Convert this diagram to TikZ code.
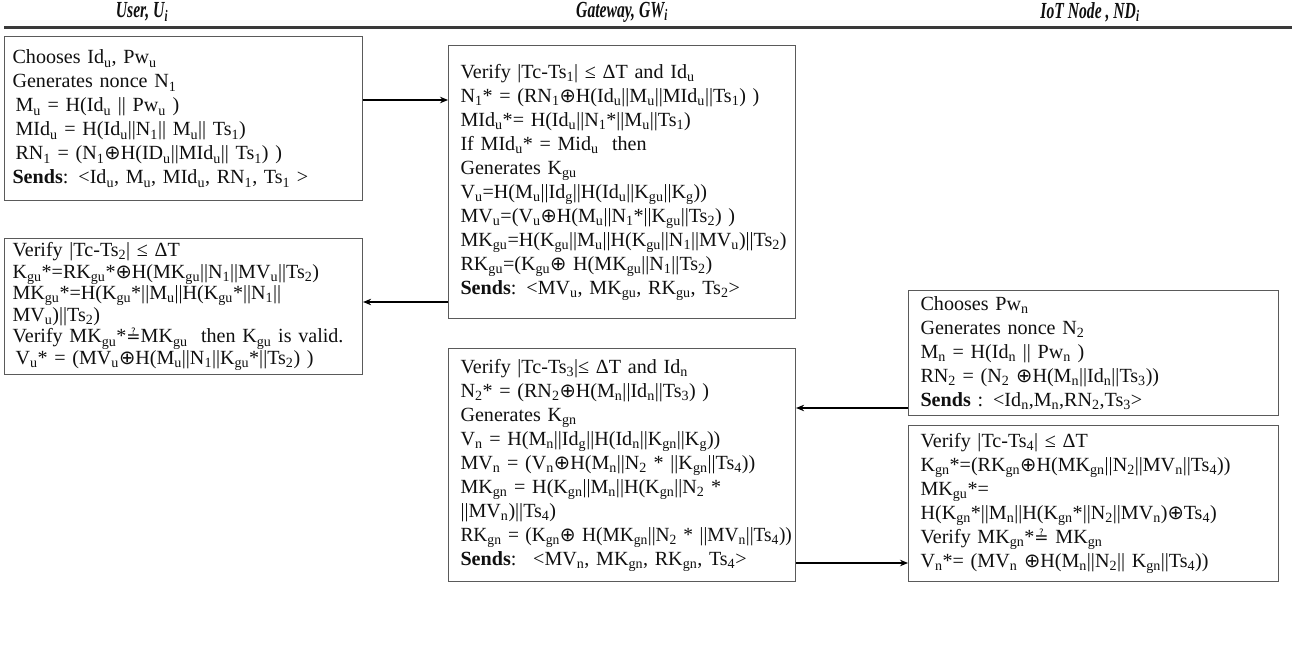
\documentclass[tikz,border=0pt]{standalone}
\usepackage{fontspec}
\usepackage{graphicx}
\setmainfont{Liberation Serif}
\newfontfamily\hdrfont{Liberation Serif}[FakeStretch=0.68]
\newfontfamily\xsymfont{DejaVu Sans}
\usetikzlibrary{arrows.meta}
\definecolor{boxgray}{HTML}{5A5A5A}
\definecolor{rulegray}{HTML}{3A3A3A}
\definecolor{ink}{HTML}{101010}
\newcommand\s[1]{\textsubscript{#1}}
\newcommand\xor{{\xsymfont\fontsize{19.5}{19.5}\selectfont ⊕}}
\newcommand\qeq{{\xsymfont\fontsize{17}{17}\selectfont ≟}}
\begin{document}
\begin{tikzpicture}[x=1pt,y=-1pt,
  box/.style={draw=boxgray, line width=1.1pt, anchor=north west, align=left,
    inner xsep=8pt, inner ysep=0pt, text=ink,
    font=\fontsize{20.1}{24}\selectfont},
  tight/.style={font=\fontsize{20.1}{21.6}\selectfont},
  hdr/.style={font=\hdrfont\bfseries\itshape\fontsize{23}{26}\selectfont, text=ink},
  arr/.style={-{Stealth[length=8pt,width=6.5pt]}, line width=1.4pt, draw=black}]
\useasboundingbox[fill=white] (0,0) rectangle (1296,650);

% column headings and rule
\node[hdr] (hU) at (142,12) {User, U\s{i}};
\node[hdr] (hG) at (622,12) {Gateway, GW\s{i}};
\node[hdr] (hN) at (1090,12) {IoT Node , ND\s{i}};
\coordinate (rl) at (4,28);
\coordinate (rr) at (1292,28);
\draw[line width=3pt, rulegray] (rl) -- (rr);

% user side
\node[box, minimum width=358pt, text width=342pt, minimum height=164pt] (ub1) at (4,36) {%
Chooses Id\s{u}, Pw\s{u}\\
Generates nonce N\s{1}\\
\hspace{3pt}M\s{u} = H(Id\s{u} || Pw\s{u} )\\
\hspace{3pt}MId\s{u} = H(Id\s{u}||N\s{1}|| M\s{u}|| Ts\s{1})\\
\hspace{3pt}RN\s{1} = (N\s{1}\xor H(ID\s{u}||MId\s{u}|| Ts\s{1}) )\\
\textbf{Sends}: <Id\s{u}, M\s{u}, MId\s{u}, RN\s{1}, Ts\s{1} >};

\node[box, tight, minimum width=358pt, text width=342pt, minimum height=136pt] (ub2) at (4,238) {%
Verify |Tc-Ts\s{2}| ≤ ΔT\\
\mbox{K\s{gu}*=RK\s{gu}*\xor H(MK\s{gu}||N\s{1}||MV\s{u}||Ts\s{2})}\\
MK\s{gu}*=H(K\s{gu}*||M\s{u}||H(K\s{gu}*||N\s{1}||\\
MV\s{u})||Ts\s{2})\\
\mbox{Verify MK\s{gu}*\qeq MK\s{gu} \ then K\s{gu} is valid.}\\
\hspace{3pt}\mbox{V\s{u}* = (MV\s{u}\xor H(M\s{u}||N\s{1}||K\s{gu}*||Ts\s{2}) )}};

% gateway side
\node[box, inner xsep=12pt, minimum width=347pt, text width=323pt, minimum height=273pt] (gw1) at (448,45) {%
Verify |Tc-Ts\s{1}| ≤ ΔT and Id\s{u}\\
\mbox{N\s{1}* = (RN\s{1}\xor H(Id\s{u}||M\s{u}||MId\s{u}||Ts\s{1}) )}\\
MId\s{u}*= H(Id\s{u}||N\s{1}*||M\s{u}||Ts\s{1})\\
If MId\s{u}* = Mid\s{u} \ then\\
Generates K\s{gu}\\
V\s{u}=H(M\s{u}||Id\s{g}||H(Id\s{u}||K\s{gu}||K\s{g}))\\
\mbox{MV\s{u}=(V\s{u}\xor H(M\s{u}||N\s{1}*||K\s{gu}||Ts\s{2}) )}\\
\mbox{MK\s{gu}=H(K\s{gu}||M\s{u}||H(K\s{gu}||N\s{1}||MV\s{u})||Ts\s{2})}\\
\mbox{RK\s{gu}=(K\s{gu}\xor\ H(MK\s{gu}||N\s{1}||Ts\s{2})}\\
\textbf{Sends}: <MV\s{u}, MK\s{gu}, RK\s{gu}, Ts\s{2}>};

\node[box, inner xsep=12pt, minimum width=347pt, text width=323pt, minimum height=233pt] (gw2) at (448,348) {%
Verify |Tc-Ts\s{3}|≤ ΔT and Id\s{n}\\
\mbox{N\s{2}* = (RN\s{2}\xor H(M\s{n}||Id\s{n}||Ts\s{3}) )}\\
Generates K\s{gn}\\
\mbox{V\s{n} = H(M\s{n}||Id\s{g}||H(Id\s{n}||K\s{gn}||K\s{g}))}\\
\mbox{MV\s{n} = (V\s{n}\xor H(M\s{n}||N\s{2} * ||K\s{gn}||Ts\s{4}))}\\
\mbox{MK\s{gn} = H(K\s{gn}||M\s{n}||H(K\s{gn}||N\s{2} *}\\
||MV\s{n})||Ts\s{4})\\
\scalebox{0.965}[1]{RK\s{gn} = (K\s{gn}\xor\ H(MK\s{gn}||N\s{2} * ||MV\s{n}||Ts\s{4}))}\\
\textbf{Sends}: \ <MV\s{n}, MK\s{gn}, RK\s{gn}, Ts\s{4}>};

% IoT node side
\node[box, inner xsep=12pt, minimum width=370pt, text width=346pt, minimum height=125pt] (io1) at (908,290) {%
Chooses Pw\s{n}\\
Generates nonce N\s{2}\\
M\s{n} = H(Id\s{n} || Pw\s{n} )\\
RN\s{2} = (N\s{2} \xor H(M\s{n}||Id\s{n}||Ts\s{3}))\\
\textbf{Sends} : <Id\s{n},M\s{n},RN\s{2},Ts\s{3}>};

\node[box, inner xsep=12pt, minimum width=370pt, text width=346pt, minimum height=156pt] (io2) at (908,425) {%
Verify |Tc-Ts\s{4}| ≤ ΔT\\
\mbox{K\s{gn}*=(RK\s{gn}\xor H(MK\s{gn}||N\s{2}||MV\s{n}||Ts\s{4}))}\\
MK\s{gu}*=\\
\mbox{H(K\s{gn}*||M\s{n}||H(K\s{gn}*||N\s{2}||MV\s{n})\xor Ts\s{4})}\\
Verify MK\s{gn}*\qeq\ MK\s{gn}\\
\mbox{V\s{n}*= (MV\s{n} \xor H(M\s{n}||N\s{2}|| K\s{gn}||Ts\s{4}))}};

% message flows
\coordinate (m1) at (0,100);
\coordinate (m2) at (0,302);
\coordinate (m3) at (0,408);
\coordinate (m4) at (0,563);
\draw[arr] (ub1.east |- m1) -- (gw1.west |- m1);
\draw[arr] (gw1.west |- m2) -- (ub2.east |- m2);
\draw[arr] (io1.west |- m3) -- (gw2.east |- m3);
\draw[arr] (gw2.east |- m4) -- (io2.west |- m4);
\end{tikzpicture}
\end{document}
